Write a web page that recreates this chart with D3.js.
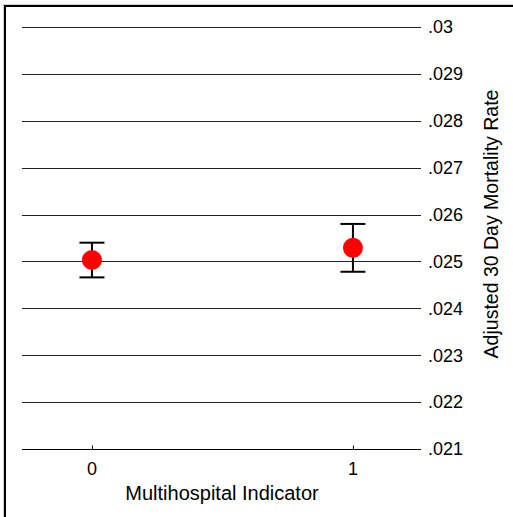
<!DOCTYPE html>
<html>
<head>
<meta charset="utf-8">
<script src="https://cdn.jsdelivr.net/npm/d3@7"></script>
<style>
  body { margin: 0; background: #fff; }
  text { font-family: "Liberation Sans", Arial, sans-serif; fill: #000; }
</style>
</head>
<body>
<div id="chart"></div>
<script>
// data
var groups = [0, 1];
var estimates = [0.02503, 0.02529];
var lowerCI = [0.02466, 0.02478];
var upperCI = [0.02540, 0.02580];
var yTicks = [0.021, 0.022, 0.023, 0.024, 0.025, 0.026, 0.027, 0.028, 0.029, 0.03];
var xTitle = "Multihospital Indicator";
var yTitle = "Adjusted 30 Day Mortality Rate";

var W = 513, H = 517;

var svg = d3.select("#chart").append("svg")
    .attr("width", W)
    .attr("height", H);

// outer frame (only top/left edges visible)
svg.append("rect")
    .attr("x", 3.5).attr("y", 4.5)
    .attr("width", W + 10).attr("height", H + 10)
    .attr("fill", "none").attr("stroke", "#c8d0d8").attr("stroke-width", 1);
svg.append("rect")
    .attr("x", 5).attr("y", 6)
    .attr("width", W + 10).attr("height", H + 10)
    .attr("fill", "none").attr("stroke", "#000").attr("stroke-width", 2);

//scales
var x = d3.scaleLinear().domain([-0.268, 1.257]).range([22, 420]);
var y = d3.scaleLinear().domain([0.021, 0.03]).range([449, 27]);

//horizontal grid lines
svg.append("g").selectAll("line")
  .data(yTicks)
  .enter().append("line")
    .attr("x1", 22).attr("x2", 421)
    .attr("y1", function(d) { return Math.round(y(d)) + 0.5; })
    .attr("y2", function(d) { return Math.round(y(d)) + 0.5; })
    .attr("stroke", function(d, i) { return i === 0 ? "#000" : "#222"; })
    .attr("stroke-width", 1);

//y-axis labels on the right
svg.append("g").selectAll("text")
  .data(yTicks)
  .enter().append("text")
    .attr("x", 428)
    .attr("y", function(d) { return y(d); })
    .attr("dy", "0.35em")
    .style("font-size", "18px")
    .text(function(d) { return d3.format(".3~f")(d).replace(/^0/, ""); });

//x-axis ticks
var xAxis = svg.append("g")
    .attr("transform", "translate(0," + (Math.round(y(0.021)) + 0.5) + ")")
    .call(d3.axisTop(x).tickValues(groups).tickSize(4).tickFormat(""));
xAxis.select(".domain").remove();
xAxis.selectAll("line").attr("stroke", "#000");

svg.append("g").selectAll("text")
  .data(groups)
  .enter().append("text")
    .attr("x", function(d) { return x(d); })
    .attr("y", 475)
    .attr("text-anchor", "middle")
    .style("font-size", "18px")
    .text(function(d) { return d; });

//axis titles
svg.append("text")
    .attr("x", 222).attr("y", 500)
    .attr("text-anchor", "middle")
    .style("font-size", "20px")
    .text(xTitle);

svg.append("text")
    .attr("transform", "translate(498,224) rotate(-90)")
    .attr("text-anchor", "middle")
    .style("font-size", "19.5px")
    .text(yTitle);

//error bars
var bars = svg.append("g").selectAll("g")
  .data(groups)
  .enter().append("g");

bars.append("line")
    .attr("x1", function(d) { return x(d); })
    .attr("x2", function(d) { return x(d); })
    .attr("y1", function(d, i) { return y(lowerCI[i]); })
    .attr("y2", function(d, i) { return y(upperCI[i]); })
    .attr("stroke", "#000").attr("stroke-width", 2);

[lowerCI, upperCI].forEach(function(arr) {
  bars.append("line")
      .attr("x1", function(d) { return x(d) - 12.5; })
      .attr("x2", function(d) { return x(d) + 12.5; })
      .attr("y1", function(d, i) { return y(arr[i]); })
      .attr("y2", function(d, i) { return y(arr[i]); })
      .attr("stroke", "#000").attr("stroke-width", 2);
});

//points
svg.append("g").selectAll("circle")
  .data(groups)
  .enter().append("circle")
    .attr("cx", function(d) { return x(d); })
    .attr("cy", function(d, i) { return y(estimates[i]); })
    .attr("r", 10)
    .attr("fill", "#ff0000");
</script>
</body>
</html>
